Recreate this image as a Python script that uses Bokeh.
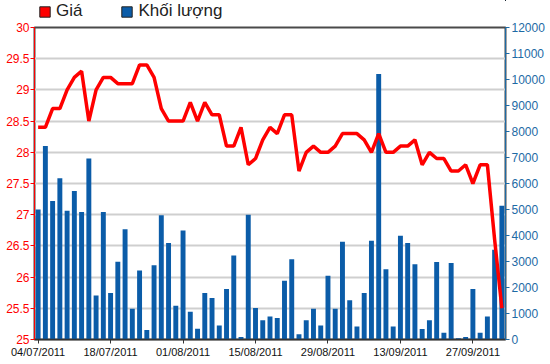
from bokeh.plotting import figure
from bokeh.layouts import column
from bokeh.models import (Range1d, LinearAxis, FixedTicker, ColumnDataSource,
                          Legend, LegendItem)
from bokeh.embed import file_html
from bokeh.resources import INLINE

dates = [
    "04/07/2011", "05/07/2011", "06/07/2011", "07/07/2011", "08/07/2011",
    "11/07/2011", "12/07/2011", "13/07/2011", "14/07/2011", "15/07/2011",
    "18/07/2011", "19/07/2011", "20/07/2011", "21/07/2011", "22/07/2011",
    "25/07/2011", "26/07/2011", "27/07/2011", "28/07/2011", "29/07/2011",
    "01/08/2011", "02/08/2011", "03/08/2011", "04/08/2011", "05/08/2011",
    "08/08/2011", "09/08/2011", "10/08/2011", "11/08/2011", "12/08/2011",
    "15/08/2011", "16/08/2011", "17/08/2011", "18/08/2011", "19/08/2011",
    "22/08/2011", "23/08/2011", "24/08/2011", "25/08/2011", "26/08/2011",
    "29/08/2011", "30/08/2011", "31/08/2011", "01/09/2011", "05/09/2011",
    "06/09/2011", "07/09/2011", "08/09/2011", "09/09/2011", "12/09/2011",
    "13/09/2011", "14/09/2011", "15/09/2011", "16/09/2011", "19/09/2011",
    "20/09/2011", "21/09/2011", "22/09/2011", "23/09/2011", "26/09/2011",
    "27/09/2011", "28/09/2011", "29/09/2011", "30/09/2011", "03/10/2011",
]

price = [
    28.4, 28.4, 28.7, 28.7, 29.0, 29.2, 29.3, 28.5, 29.0, 29.2,
    29.2, 29.1, 29.1, 29.1, 29.4, 29.4, 29.2, 28.7, 28.5, 28.5,
    28.5, 28.8, 28.5, 28.8, 28.6, 28.6, 28.1, 28.1, 28.4, 27.8,
    27.9, 28.2, 28.4, 28.3, 28.6, 28.6, 27.7, 28.0, 28.1, 28.0,
    28.0, 28.1, 28.3, 28.3, 28.3, 28.2, 28.0, 28.3, 28.0, 28.0,
    28.1, 28.1, 28.2, 27.8, 28.0, 27.9, 27.9, 27.7, 27.7, 27.8,
    27.5, 27.8, 27.8, 26.6, 25.5,
]

volume = [
    5000, 7440, 5330, 6200, 4950, 5710, 4900, 6960, 1690, 4900,
    1790, 2990, 4240, 1180, 2650, 370, 2860, 4780, 3710, 1300,
    4190, 1070, 410, 1790, 1600, 540, 1940, 3230, 100, 4800,
    1210, 740, 880, 830, 2260, 3090, 200, 740, 1180, 540,
    2450, 1180, 3760, 1510, 500, 1790, 3800, 10210, 2700, 500,
    3990, 3710, 2890, 400, 740, 2980, 260, 2940, 50, 100,
    1940, 260, 880, 3450, 5140,
]

price_ticks = [25, 25.5, 26, 26.5, 27, 27.5, 28, 28.5, 29, 29.5, 30]
price_labels = ["25", "25.5", "26", "26.5", "27", "27.5", "28", "28.5", "29", "29.5", "30"]
volume_ticks = [0, 1000, 2000, 3000, 4000, 5000, 6000, 7000, 8000, 9000,
                10000, 11000, 12000]
date_tick_idx = [0, 10, 20, 30, 40, 50, 60]
series_names = ["Giá", "Khối lượng"]

RED = "#ff0000"
BLUE = "#0b5ca8"
AXBLUE = "#1d6aa5"
FONT = "Liberation Sans"

idx = list(range(len(dates)))
src = ColumnDataSource(dict(x=idx, price=price, volume=volume))

# ---------------- main chart ----------------
p = figure(width=550, height=343, output_backend="svg", toolbar_location=None,
           x_range=Range1d(-0.5, len(dates) - 0.5), y_range=Range1d(25, 30))
p.min_border_top = 6
p.min_border_bottom = 25
p.min_border_left = 34
p.min_border_right = 45

p.extra_y_ranges = {"vol": Range1d(0, 12000)}

bars = p.vbar(x="x", top="volume", bottom=0, width=0.68, source=src,
              y_range_name="vol", fill_color=BLUE, line_color=None)
line = p.line(x="x", y="price", source=src, line_color=RED, line_width=3.5)

ya = p.yaxis[0]
ya.ticker = FixedTicker(ticks=price_ticks)
ya.major_label_overrides = {t: s for t, s in zip(price_ticks, price_labels)}
ya.axis_line_color = RED
ya.major_tick_line_color = RED
ya.major_label_text_color = RED
ya.minor_tick_line_color = None
ya.major_tick_out = 4
ya.major_tick_in = 0
ya.major_label_standoff = 1
ya.major_label_text_font = FONT
ya.major_label_text_font_size = "12px"

ra = LinearAxis(y_range_name="vol", ticker=FixedTicker(ticks=volume_ticks))
ra.axis_line_color = AXBLUE
ra.major_tick_line_color = AXBLUE
ra.major_label_text_color = AXBLUE
ra.minor_tick_line_color = None
ra.major_tick_out = 4
ra.major_tick_in = 0
ra.major_label_standoff = 2
ra.major_label_text_font = FONT
ra.major_label_text_font_size = "12px"
p.add_layout(ra, "right")

xa = p.xaxis[0]
xa.ticker = FixedTicker(ticks=date_tick_idx)
xa.major_label_overrides = {i: dates[i] for i in date_tick_idx}
xa.axis_line_color = "#333333"
xa.axis_line_width = 1.5
xa.major_tick_line_color = "#333333"
xa.minor_tick_line_color = None
xa.major_tick_out = 4
xa.major_tick_in = 0
xa.major_label_standoff = 2
xa.major_label_text_font = FONT
xa.major_label_text_font_size = "11px"
xa.major_label_text_color = "#111111"

p.xgrid.visible = False
p.ygrid.ticker = FixedTicker(ticks=price_ticks)
p.ygrid.grid_line_color = "#cfcfcf"
p.ygrid.grid_line_width = 2

p.outline_line_color = "#4a4a4a"
p.outline_line_width = 2

# ---------------- legend strip ----------------
lg = figure(width=550, height=21, output_backend="svg", toolbar_location=None,
            x_range=Range1d(-10, -9), y_range=Range1d(-10, -9),
            x_axis_location=None, y_axis_location=None)
lg.min_border_top = 0
lg.min_border_bottom = 0
lg.min_border_left = 0
lg.min_border_right = 0
lg.outline_line_color = None
lg.grid.visible = False

# proxies: their data lies outside the strip's ranges, so only the swatches show
gia_proxy = lg.vbar(x="x", top="price", bottom=0, width=0.5, source=src,
                    fill_color=RED, line_color="#222222")
kl_proxy = lg.vbar(x="x", top="volume", bottom=0, width=0.5, source=src,
                   fill_color=BLUE, line_color="#222222")

legend = Legend(items=[LegendItem(label=series_names[0], renderers=[gia_proxy]),
                       LegendItem(label=series_names[1], renderers=[kl_proxy])],
                orientation="horizontal", location=(4, 0))
legend.border_line_color = None
legend.background_fill_alpha = 0
legend.label_text_font = FONT
legend.label_text_font_size = "17px"
legend.label_text_color = "#222222"
legend.glyph_width = 13
legend.glyph_height = 13
legend.label_standoff = 5
legend.spacing = 38
legend.padding = 0
legend.margin = 0
lg.add_layout(legend)

layout = column(lg, p, spacing=0)

open("out.html", "w").write(file_html(layout, INLINE))
